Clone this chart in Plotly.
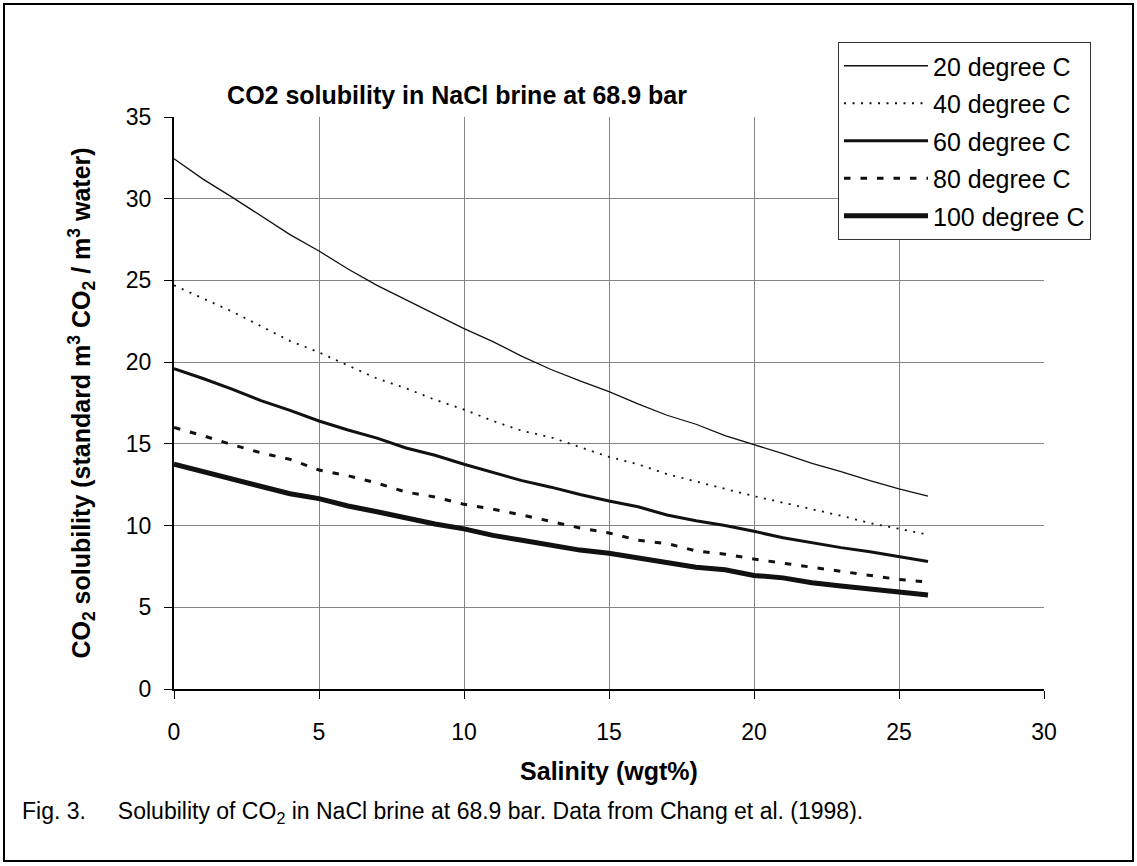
import plotly.graph_objects as go

salinity = list(range(0, 27))
t20 = [32.45, 31.2, 30.1, 28.95, 27.8, 26.8, 25.7, 24.7, 23.8, 22.9, 22.05, 21.25, 20.35, 19.55, 18.85,
       18.2, 17.45, 16.75, 16.2, 15.5, 14.95, 14.4, 13.8, 13.3, 12.75, 12.25, 11.8]
t40 = [24.7, 23.9, 23.1, 22.2, 21.3, 20.6, 19.8, 19.0, 18.4, 17.7, 17.1, 16.4, 15.8, 15.4, 14.8,
       14.2, 13.75, 13.15, 12.7, 12.25, 11.8, 11.4, 11.0, 10.6, 10.15, 9.8, 9.45]
t60 = [19.6, 19.0, 18.35, 17.65, 17.05, 16.4, 15.85, 15.35, 14.75, 14.3, 13.75, 13.25, 12.75, 12.35, 11.9,
       11.5, 11.15, 10.65, 10.3, 10.0, 9.65, 9.25, 8.95, 8.65, 8.4, 8.1, 7.8]
t80 = [16.0, 15.5, 14.95, 14.45, 14.05, 13.4, 13.05, 12.6, 12.05, 11.75, 11.3, 11.0, 10.65, 10.25, 9.85,
       9.55, 9.1, 8.9, 8.45, 8.25, 7.95, 7.7, 7.45, 7.2, 6.95, 6.7, 6.55]
t100 = [13.75, 13.3, 12.8, 12.35, 11.95, 11.65, 11.2, 10.85, 10.45, 10.1, 9.8, 9.4, 9.1, 8.8, 8.5,
        8.3, 8.0, 7.75, 7.45, 7.3, 6.95, 6.8, 6.5, 6.3, 6.1, 5.9, 5.75]
names = ["20 degree C", "40 degree C", "60 degree C", "80 degree C", "100 degree C"]
series = [t20, t40, t60, t80, t100]
styles = [dict(width=1.3, dash="solid"), dict(width=1.8, dash="2px,6.5px"), dict(width=3, dash="solid"),
          dict(width=3, dash="6.5px,10px"), dict(width=5, dash="solid")]

FONT = "Liberation Sans, Arial, sans-serif"
fig = go.Figure()
for i, (nm, ys, st) in enumerate(zip(names, series, styles)):
    fig.add_trace(go.Scatter(x=salinity, y=ys, mode="lines", name=nm, legendgroup=f"g{i}",
                             line=dict(color="#111111", width=st["width"], dash=st["dash"])))

L, R, T, B = 174, 1044, 117, 689
W, H = 1137, 866
pw, ph = R - L, B - T

def px(x):
    return (x - L) / pw

def py(y):
    return (B - y) / ph

fig.update_layout(
    width=W, height=H,
    margin=dict(l=L, r=W - R, t=T, b=H - B, pad=0),
    paper_bgcolor="white", plot_bgcolor="white",
    font=dict(family=FONT, color="black", size=23),
    title=dict(text="<b>CO2 solubility in NaCl brine at 68.9 bar</b>", x=457 / W, xanchor="center",
               y=1 - 95 / H, yanchor="middle", yref="container",
               font=dict(size=25, family=FONT, color="black")),
    showlegend=True,
    legend=dict(x=px(838), y=py(42), xanchor="left", yanchor="top", bgcolor="white",
                bordercolor="#333333", borderwidth=1, font=dict(size=25, family=FONT),
                itemwidth=84, tracegroupgap=2),
    xaxis=dict(range=[0, 30], tickvals=[0, 5, 10, 15, 20, 25, 30], showgrid=True, gridcolor="#858585",
               gridwidth=1, zeroline=False, showline=True, linecolor="black", linewidth=2,
               ticks="outside", ticklen=8, tickcolor="black", ticklabelstandoff=13,
               tickfont=dict(size=23),
               title=dict(text="<b>Salinity (wgt%)</b>", font=dict(size=25), standoff=19)),
    yaxis=dict(range=[0, 35], tickvals=[0, 5, 10, 15, 20, 25, 30, 35], showgrid=True, gridcolor="#858585",
               gridwidth=1, zeroline=False, showline=True, linecolor="black", linewidth=2,
               ticks="outside", ticklen=8, tickcolor="black", ticklabelstandoff=8,
               tickfont=dict(size=23),
               title=dict(text="<b>CO<sub>2</sub> solubility (standard m<sup>3</sup> CO<sub>2</sub> / m<sup>3</sup> water)</b>",
                          font=dict(size=25), standoff=28)),
)

fig.add_shape(type="rect", xref="paper", yref="paper", x0=px(4), x1=px(1133), y0=py(861), y1=py(4),
              line=dict(color="black", width=2), fillcolor="rgba(0,0,0,0)", layer="above")
fig.add_annotation(text="Fig. 3.\u00a0\u00a0\u00a0\u00a0 Solubility of CO<sub>2</sub> in NaCl brine at 68.9 bar. Data from Chang et al. (1998).",
                   xref="paper", yref="paper", x=px(20), y=py(812), xanchor="left", yanchor="middle",
                   showarrow=False, font=dict(size=23, family=FONT, color="black"))

fig.write_html("out.html", config={"displayModeBar": False},
               post_script="document.body.style.margin='0';document.body.style.overflow='hidden';")
